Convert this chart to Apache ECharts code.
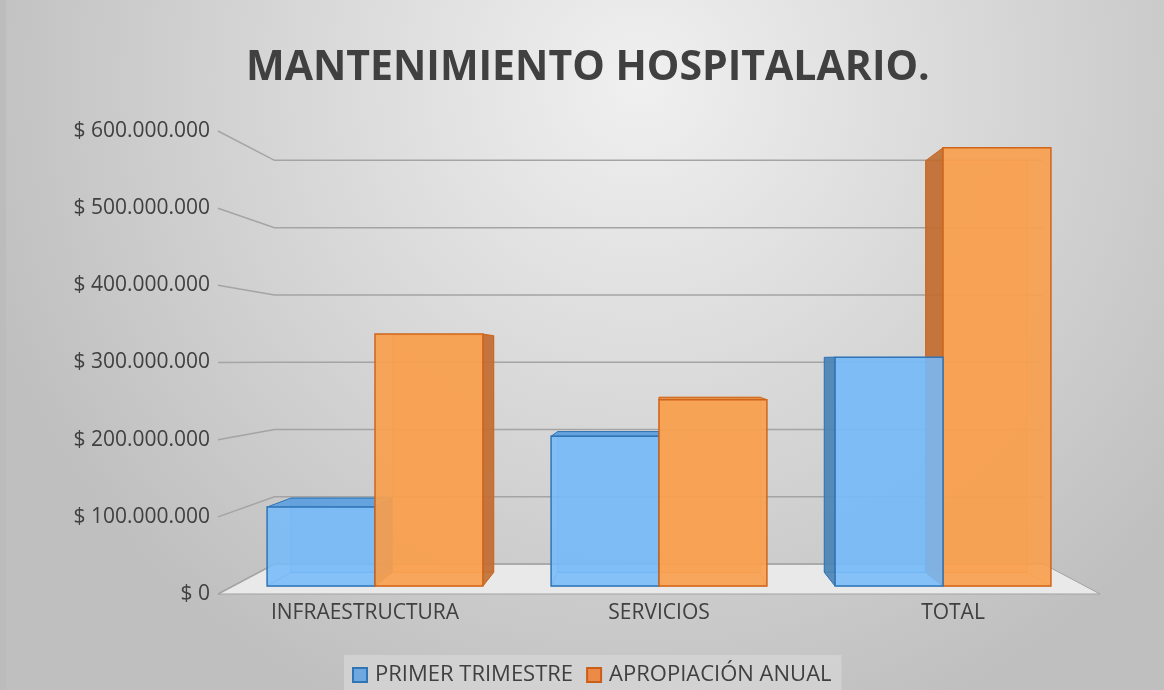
<!DOCTYPE html>
<html lang="es">
<head>
  <meta charset="UTF-8">
  <title>Mantenimiento hospitalario</title>
  <script src="https://cdn.jsdelivr.net/npm/echarts@6/dist/echarts.min.js"></script>
  <style>
    html, body, #main {
      margin: 0;
      padding: 0;
      width: 100%;
      height: 100%;
    }
  </style>
</head>
<body>
  <div id="main"></div>
  <script>
    // datos
    const categorias = ['INFRAESTRUCTURA', 'SERVICIOS', 'TOTAL'];
    const primerTrimestre = [106000000, 201000000, 307000000];
    const apropiacionAnual = [338000000, 250000000, 588000000];
    const ticksY = [0, 100000000, 200000000, 300000000, 400000000, 500000000, 600000000];

    // "camara" de la vista 3D tipo Excel
    const HORIZONTE = 303000000; // altura de los ojos, en unidades del eje
    const K_FRENTE = 0.966, K_FONDO = 0.907, K_PARED = 0.872;
    const ANCHO_BARRA = 0.38;
    const fuente = 'Open Sans';

    const azul = {
      frente: 'rgba(118,186,248,0.88)', fondo: 'rgba(118,186,248,0.35)',
      lado: 'rgba(72,128,178,0.88)', tapa: 'rgba(92,158,222,0.9)',
      borde: '#3175b6', interior: 'rgba(55,135,215,0.55)'
    };
    const naranja = {
      frente: 'rgba(248,160,78,0.92)', fondo: 'rgba(248,160,78,0.35)',
      lado: 'rgba(190,106,46,0.88)', tapa: 'rgba(226,136,60,0.9)',
      borde: '#cf651a', interior: 'rgba(232,125,35,0.6)'
    };

    const chart = echarts.init(document.getElementById('main'));

    function formatoPesos(v) {
      return '$ ' + String(v).replace(/\B(?=(\d{3})+(?!\d))/g, '.');
    }

    // proyeccion: k=1 es el plano del eje, k<1 va hacia el fondo
    function camara(api) {
      const vx = api.coord([1, 0])[0];
      const vy = api.coord([0, HORIZONTE])[1];
      return { vx, vy, P: (x, y, k) => [vx + k * (x - vx), vy + k * (y - vy)] };
    }

    function pintarParedes(params, api) {
      const { P } = camara(api);
      const cs = params.coordSys;
      const x0 = cs.x, x1 = cs.x + cs.width;
      const v = api.value(1);
      const y = api.coord([0, v])[1];
      const hijos = [];
      if (v === 0) {
        hijos.push({
          type: 'polygon',
          shape: { points: [[x0, y], [x1, y], P(x1, y, K_PARED), P(x0, y, K_PARED)] },
          style: { fill: '#e9e9e9', stroke: '#a2a2a2', lineWidth: 1 },
          z2: 0
        });
      }
      hijos.push({
        type: 'polyline',
        shape: { points: [[x0, y], P(x0, y, K_PARED), P(x1, y, K_PARED)] },
        style: { fill: null, stroke: '#a4a4a4', lineWidth: 1.5 },
        z2: 1
      });
      return { type: 'group', children: hijos };
    }

    function pintarBarra(lado, c) {
      return function (params, api) {
        const { vx, vy, P } = camara(api);
        const ci = api.value(0);
        const base = api.coord([ci, 0]);
        const yb = base[1];
        const yt = api.coord([ci, api.value(1)])[1];
        const w = api.size([1, 0])[0] * ANCHO_BARRA;
        const x0 = lado < 0 ? base[0] - w : base[0];
        const x1 = x0 + w;
        const f = (x, y) => P(x, y, K_FRENTE);
        const b = (x, y) => P(x, y, K_FONDO);
        const orden = -Math.abs((x0 + x1) / 2 - vx);
        const caras = [];
        const cara = (pts, fill, stroke, lw) => caras.push({
          type: 'polygon',
          shape: { points: pts },
          style: { fill: fill, stroke: stroke, lineWidth: lw },
          z2: orden + caras.length * 0.01
        });
        // fondo y base (se ven por la transparencia)
        cara([b(x0, yb), b(x1, yb), b(x1, yt), b(x0, yt)], c.fondo, c.interior, 1);
        cara([f(x0, yb), f(x1, yb), b(x1, yb), b(x0, yb)], 'none', c.interior, 1);
        // lateral visible
        if (x1 < vx) cara([f(x1, yb), b(x1, yb), b(x1, yt), f(x1, yt)], c.lado, c.borde, 1);
        if (x0 > vx) cara([f(x0, yb), b(x0, yb), b(x0, yt), f(x0, yt)], c.lado, c.borde, 1);
        // tapa, si queda por debajo del horizonte
        if (yt > vy + 1) cara([f(x0, yt), f(x1, yt), b(x1, yt), b(x0, yt)], c.tapa, c.borde, 1);
        // frente
        cara([f(x0, yb), f(x1, yb), f(x1, yt), f(x0, yt)], c.frente, c.borde, 1.5);
        return { type: 'group', children: caras };
      };
    }

    chart.setOption({
      backgroundColor: new echarts.graphic.RadialGradient(0.55, 0.12, 1.0, [
        { offset: 0, color: '#f0f0f0' },
        { offset: 1, color: '#bfbfbf' }
      ]),
      graphic: [{
        type: 'rect',
        left: 0, top: 0,
        shape: { width: 6, height: 690 },
        style: { fill: '#bcbcbc' }
      }],
      title: {
        text: 'MANTENIMIENTO HOSPITALARIO.',
        left: 241,
        top: 43,
        textStyle: { fontFamily: fuente, fontSize: 41, fontWeight: 'bold', color: '#404040' }
      },
      legend: {
        left: 344,
        top: 655,
        padding: [9, 10, 9, 8],
        backgroundColor: 'rgba(214,214,214,0.75)',
        icon: 'rect',
        itemWidth: 14,
        itemHeight: 14,
        itemGap: 13,
        textStyle: { fontFamily: fuente, fontSize: 22, color: '#404040', padding: [0, 0, 0, 3] },
        data: ['PRIMER TRIMESTRE', 'APROPIACIÓN ANUAL']
      },
      grid: { left: 218, right: 64, top: 131, bottom: 96 },
      xAxis: {
        type: 'category',
        data: categorias,
        axisLine: { show: false },
        axisTick: { show: false },
        axisLabel: { margin: 9, fontFamily: fuente, fontSize: 21, color: '#404040' }
      },
      yAxis: {
        type: 'value',
        min: 0,
        max: 600000000,
        interval: 100000000,
        splitLine: { show: false },
        axisLine: { show: false },
        axisTick: { show: false },
        axisLabel: { margin: 8, fontFamily: fuente, fontSize: 21, color: '#404040', formatter: formatoPesos }
      },
      series: [
        {
          type: 'custom',
          name: 'paredes',
          z: 1,
          silent: true,
          clip: false,
          renderItem: pintarParedes,
          encode: { x: 0, y: 1 },
          data: ticksY.map(v => [0, v])
        },
        {
          type: 'custom',
          name: 'PRIMER TRIMESTRE',
          z: 2,
          silent: true,
          clip: false,
          itemStyle: { color: '#6fa8de', borderColor: '#2f74b5', borderWidth: 1 },
          renderItem: pintarBarra(-1, azul),
          encode: { x: 0, y: 1 },
          data: primerTrimestre.map((v, i) => [i, v])
        },
        {
          type: 'custom',
          name: 'APROPIACIÓN ANUAL',
          z: 2,
          silent: true,
          clip: false,
          itemStyle: { color: '#ed8a48', borderColor: '#c85f18', borderWidth: 1 },
          renderItem: pintarBarra(1, naranja),
          encode: { x: 0, y: 1 },
          data: apropiacionAnual.map((v, i) => [i, v])
        }
      ]
    });
  </script>
</body>
</html>
